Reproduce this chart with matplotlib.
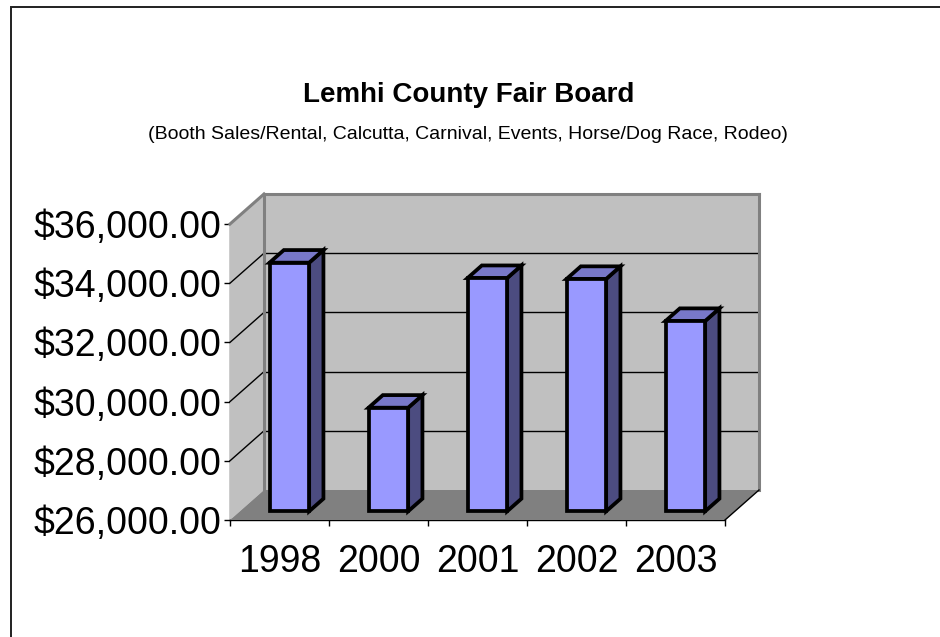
import matplotlib

matplotlib.use("Agg")
import matplotlib.pyplot as plt
from matplotlib.patches import Polygon, Rectangle
from matplotlib.transforms import IdentityTransform

plt.rcParams["font.family"] = ["Liberation Sans", "DejaVu Sans"]

# data
years = ["1998", "2000", "2001", "2002", "2003"]
revenue = [34400, 29500, 33880, 33850, 32430]
y_ticks = [26000, 28000, 30000, 32000, 34000, 36000]
y_min, y_max = 26000, 36000

title = "Lemhi County Fair Board"
subtitle = "(Booth Sales/Rental, Calcutta, Carnival, Events, Horse/Dog Race, Rodeo)"

W, H, DPI = 940, 637, 100
fig = plt.figure(figsize=(W / DPI, H / DPI), dpi=DPI)
fig.patch.set_facecolor("white")

# front plane of the 3-D box
ax = fig.add_axes([230 / W, 1 - 520 / H, 495 / W, 296 / H])
ax.set_xlim(0, len(years))
ax.set_ylim(y_min, y_max)
ax.patch.set_visible(False)
for s in ("top", "right"):
    ax.spines[s].set_visible(False)
for s in ("left", "bottom"):
    ax.spines[s].set_linewidth(1.0)
    ax.spines[s].set_zorder(4)

# oblique depth offset (pixels at full depth)
DX, DY = 0.34 * fig.dpi, 0.30 * fig.dpi


def proj(x, y, d):
    px, py = ax.transData.transform((x, y))
    return (px + d * DX, py + d * DY)


def face(pts, **kw):
    p = Polygon(pts, closed=True, transform=IdentityTransform(), clip_on=False,
                joinstyle="miter", **kw)
    fig.add_artist(p)
    return p


def seg(p0, p1, **kw):
    fig.add_artist(plt.Line2D([p0[0], p1[0]], [p0[1], p1[1]],
                              transform=IdentityTransform(), clip_on=False, **kw))


n = len(years)
wall_c, floor_c, edge_c = "#c0c0c0", "#808080", "#808080"

# back wall, side wall, floor
face([proj(0, y_min, 1), proj(n, y_min, 1), proj(n, y_max, 1), proj(0, y_max, 1)],
     facecolor=wall_c, edgecolor="none", zorder=1)
face([proj(0, y_min, 0), proj(0, y_min, 1), proj(0, y_max, 1), proj(0, y_max, 0)],
     facecolor=wall_c, edgecolor="none", zorder=1)
face([proj(0, y_min, 0), proj(n, y_min, 0), proj(n, y_min, 1), proj(0, y_min, 1)],
     facecolor=floor_c, edgecolor="none", zorder=1.1)

# gridlines on both walls
for v in y_ticks[1:-1]:
    seg(proj(0, v, 0), proj(0, v, 1), color="black", lw=1.0, zorder=1.5)
    seg(proj(0, v, 1), proj(n, v, 1), color="black", lw=1.0, zorder=1.5)

# wall edges
seg(proj(0, y_max, 0), proj(0, y_max, 1), color=edge_c, lw=2.2, zorder=1.6)
seg(proj(0, y_max, 1), proj(n, y_max, 1), color=edge_c, lw=2.2, zorder=1.6)
seg(proj(0, y_min, 1), proj(0, y_max, 1), color=edge_c, lw=2.2, zorder=1.6)
seg(proj(n, y_min, 1), proj(n, y_max, 1), color=edge_c, lw=2.2, zorder=1.6)
seg(proj(n, y_min, 0), proj(n, y_min, 1), color="black", lw=1.0, zorder=1.6)

# bars
front_c, top_c, side_c = "#9999ff", "#7878c8", "#4c4c80"
half_w, d0, d1 = 0.2, 0.29, 0.71
for i, v in enumerate(revenue):
    x0, x1 = i + 0.5 - half_w, i + 0.5 + half_w
    z = 3 + i * 0.1
    face([proj(x1, y_min, d0), proj(x1, y_min, d1), proj(x1, v, d1), proj(x1, v, d0)],
         facecolor=side_c, edgecolor="black", lw=2.7, zorder=z)
    face([proj(x0, v, d0), proj(x1, v, d0), proj(x1, v, d1), proj(x0, v, d1)],
         facecolor=top_c, edgecolor="black", lw=2.7, zorder=z)
    face([proj(x0, y_min, d0), proj(x1, y_min, d0), proj(x1, v, d0), proj(x0, v, d0)],
         facecolor=front_c, edgecolor="black", lw=2.7, zorder=z + 0.05)

# ticks and labels
ax.set_yticks(y_ticks)
ax.set_yticklabels([f"${v:,.2f}" for v in y_ticks])
ax.tick_params(axis="y", direction="out", length=4, width=1, pad=2, labelsize=27)
ax.set_xticks(range(n + 1))
ax.set_xticklabels([])
ax.set_xticks([i + 0.5 for i in range(n)], minor=True)
ax.set_xticklabels(years, minor=True)
ax.tick_params(axis="x", which="major", direction="out", length=4, width=1)
ax.tick_params(axis="x", which="minor", length=0, pad=17, labelsize=27)

fig.text(469 / W, 1 - 95 / H, title, ha="center", va="center",
         fontsize=20, fontweight="bold")
fig.text(468 / W, 1 - 134 / H, subtitle, ha="center", va="center", fontsize=14)

# chart area border
fig.add_artist(Rectangle((10.5 / W, -0.05), 1.2, 1.05 - 7 / H, transform=fig.transFigure,
                         fill=False, edgecolor="#202020", lw=1.4, clip_on=False))

fig.savefig("out.png", dpi=DPI)
